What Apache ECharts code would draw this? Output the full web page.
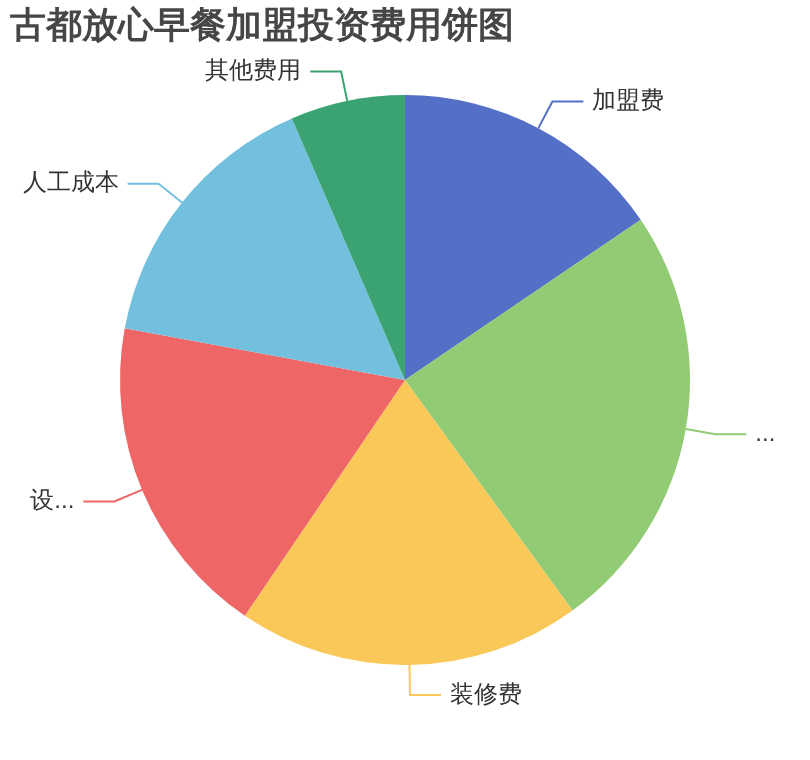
<!DOCTYPE html>
<html>
<head>
<meta charset="utf-8">
<title>古都放心早餐加盟投资费用饼图</title>
<script src="https://cdn.jsdelivr.net/npm/echarts@6/dist/echarts.min.js"></script>
<style>
  html, body { margin: 0; padding: 0; background: #fff; }
  #main { width: 810px; height: 760px; }
</style>
</head>
<body>
<div id="main"></div>
<script>
// 费用项目与占比（读图估算，单位：%）
var categories = ['加盟费', '店面租金', '装修费', '设备费', '人工成本', '其他费用'];
var values = [15.5, 24.5, 19.5, 18.4, 15.6, 6.5];
var colors = ['#5470c6', '#91cc75', '#fac858', '#ee6666', '#73c0de', '#3ba272'];

var chart = echarts.init(document.getElementById('main'));

var pieData = categories.map(function (name, i) {
    return { name: name, value: values[i] };
});

chart.setOption({
    color: colors,
    title: {
        text: '古都放心早餐加盟投资费用饼图',
        left: 5,
        top: 4,
        textStyle: {
            fontSize: 36,
            fontWeight: 'bold',
            color: '#464646'
        }
    },
    series: [{
        type: 'pie',
        radius: '75%',
        center: ['50%', '50%'],
        data: pieData,
        label: {
            fontSize: 24,
            color: '#333',
            distanceToLabelLine: 9
        },
        labelLine: {
            length: 30,
            length2: 31,
            lineStyle: { width: 2 }
        }
    }]
});
</script>
</body>
</html>
